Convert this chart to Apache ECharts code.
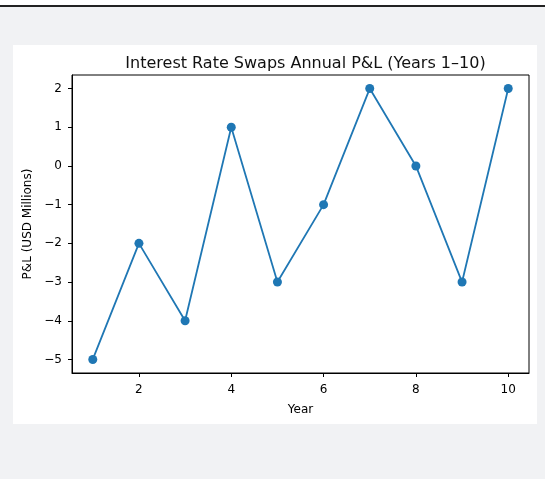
<!DOCTYPE html>
<html>
<head>
<meta charset="utf-8">
<script src="https://cdn.jsdelivr.net/npm/echarts@6/dist/echarts.min.js"></script>
<style>
  html, body { margin: 0; padding: 0; width: 545px; height: 479px; overflow: hidden; background: #f1f2f4; }
  #topbar { position: absolute; left: 0; top: 0; width: 545px; height: 5px; background: #ffffff; }
  #rule { position: absolute; left: 0; top: 5px; width: 545px; height: 2px; background: #222; }
  #card { position: absolute; left: 13px; top: 45px; width: 524px; height: 379px; background: #ffffff; }
  #chart { position: absolute; left: 0; top: 0; width: 545px; height: 479px; }
</style>
</head>
<body>
<div id="topbar"></div>
<div id="rule"></div>
<div id="card"></div>
<div id="chart"></div>
<script>
// Annual P&L per year, USD millions
const years = [1, 2, 3, 4, 5, 6, 7, 8, 9, 10];
const pnl = [-5, -2, -4, 1, -3, -1, 2, 0, -3, 2];
const xTicks = [2, 4, 6, 8, 10];
const yTicks = [-5, -4, -3, -2, -1, 0, 1, 2];

const FONT = 'DejaVu Sans';
const fmtNum = v => (v < 0 ? '\u2212' + Math.abs(v) : String(v));

// Axis extents padded by 5% of the data span on each side
const xSpan = Math.max(...years) - Math.min(...years);
const ySpan = Math.max(...pnl) - Math.min(...pnl);
const xMin = Math.min(...years) - 0.05 * xSpan, xMax = Math.max(...years) + 0.05 * xSpan;
const yMin = Math.min(...pnl) - 0.05 * ySpan, yMax = Math.max(...pnl) + 0.05 * ySpan;

const chart = echarts.init(document.getElementById('chart'), null, { renderer: 'canvas' });
chart.setOption({
  backgroundColor: 'transparent',
  animation: false,
  title: {
    text: 'Interest Rate Swaps Annual P&L (Years 1\u201310)',
    left: 300.5, top: 51, textAlign: 'center',
    textStyle: { fontFamily: FONT, fontSize: 16, fontWeight: 'normal', color: '#111' }
  },
  grid: {
    left: 72, right: 16, top: 75, bottom: 106,
    show: true, borderColor: '#000', borderWidth: 1, backgroundColor: '#fff'
  },
  xAxis: {
    type: 'value', min: xMin, max: xMax,
    name: 'Year', nameLocation: 'middle', nameGap: 31,
    nameTextStyle: { fontFamily: FONT, fontSize: 12, color: '#000' },
    axisLine: { show: true, onZero: false, lineStyle: { color: '#000', width: 1 } },
    axisTick: { show: true, length: 4, customValues: xTicks, lineStyle: { color: '#000' } },
    axisLabel: { customValues: xTicks, margin: 11, fontFamily: FONT, fontSize: 12, color: '#000', formatter: fmtNum },
    splitLine: { show: false }
  },
  yAxis: {
    type: 'value', min: yMin, max: yMax,
    name: 'P&L (USD Millions)', nameLocation: 'middle', nameGap: 38, nameRotate: 90,
    nameTextStyle: { fontFamily: FONT, fontSize: 12, color: '#000' },
    axisLine: { show: true, onZero: false, lineStyle: { color: '#000', width: 1 } },
    axisTick: { show: true, length: 4, customValues: yTicks, lineStyle: { color: '#000' } },
    axisLabel: { customValues: yTicks, margin: 10, fontFamily: FONT, fontSize: 12, color: '#000', formatter: fmtNum },
    splitLine: { show: false }
  },
  series: [{
    type: 'line',
    data: years.map((y, i) => [y, pnl[i]]),
    symbol: 'circle', symbolSize: 9,
    itemStyle: { color: '#1f77b4' },
    lineStyle: { color: '#1f77b4', width: 1.8 }
  }]
});
</script>
</body>
</html>
